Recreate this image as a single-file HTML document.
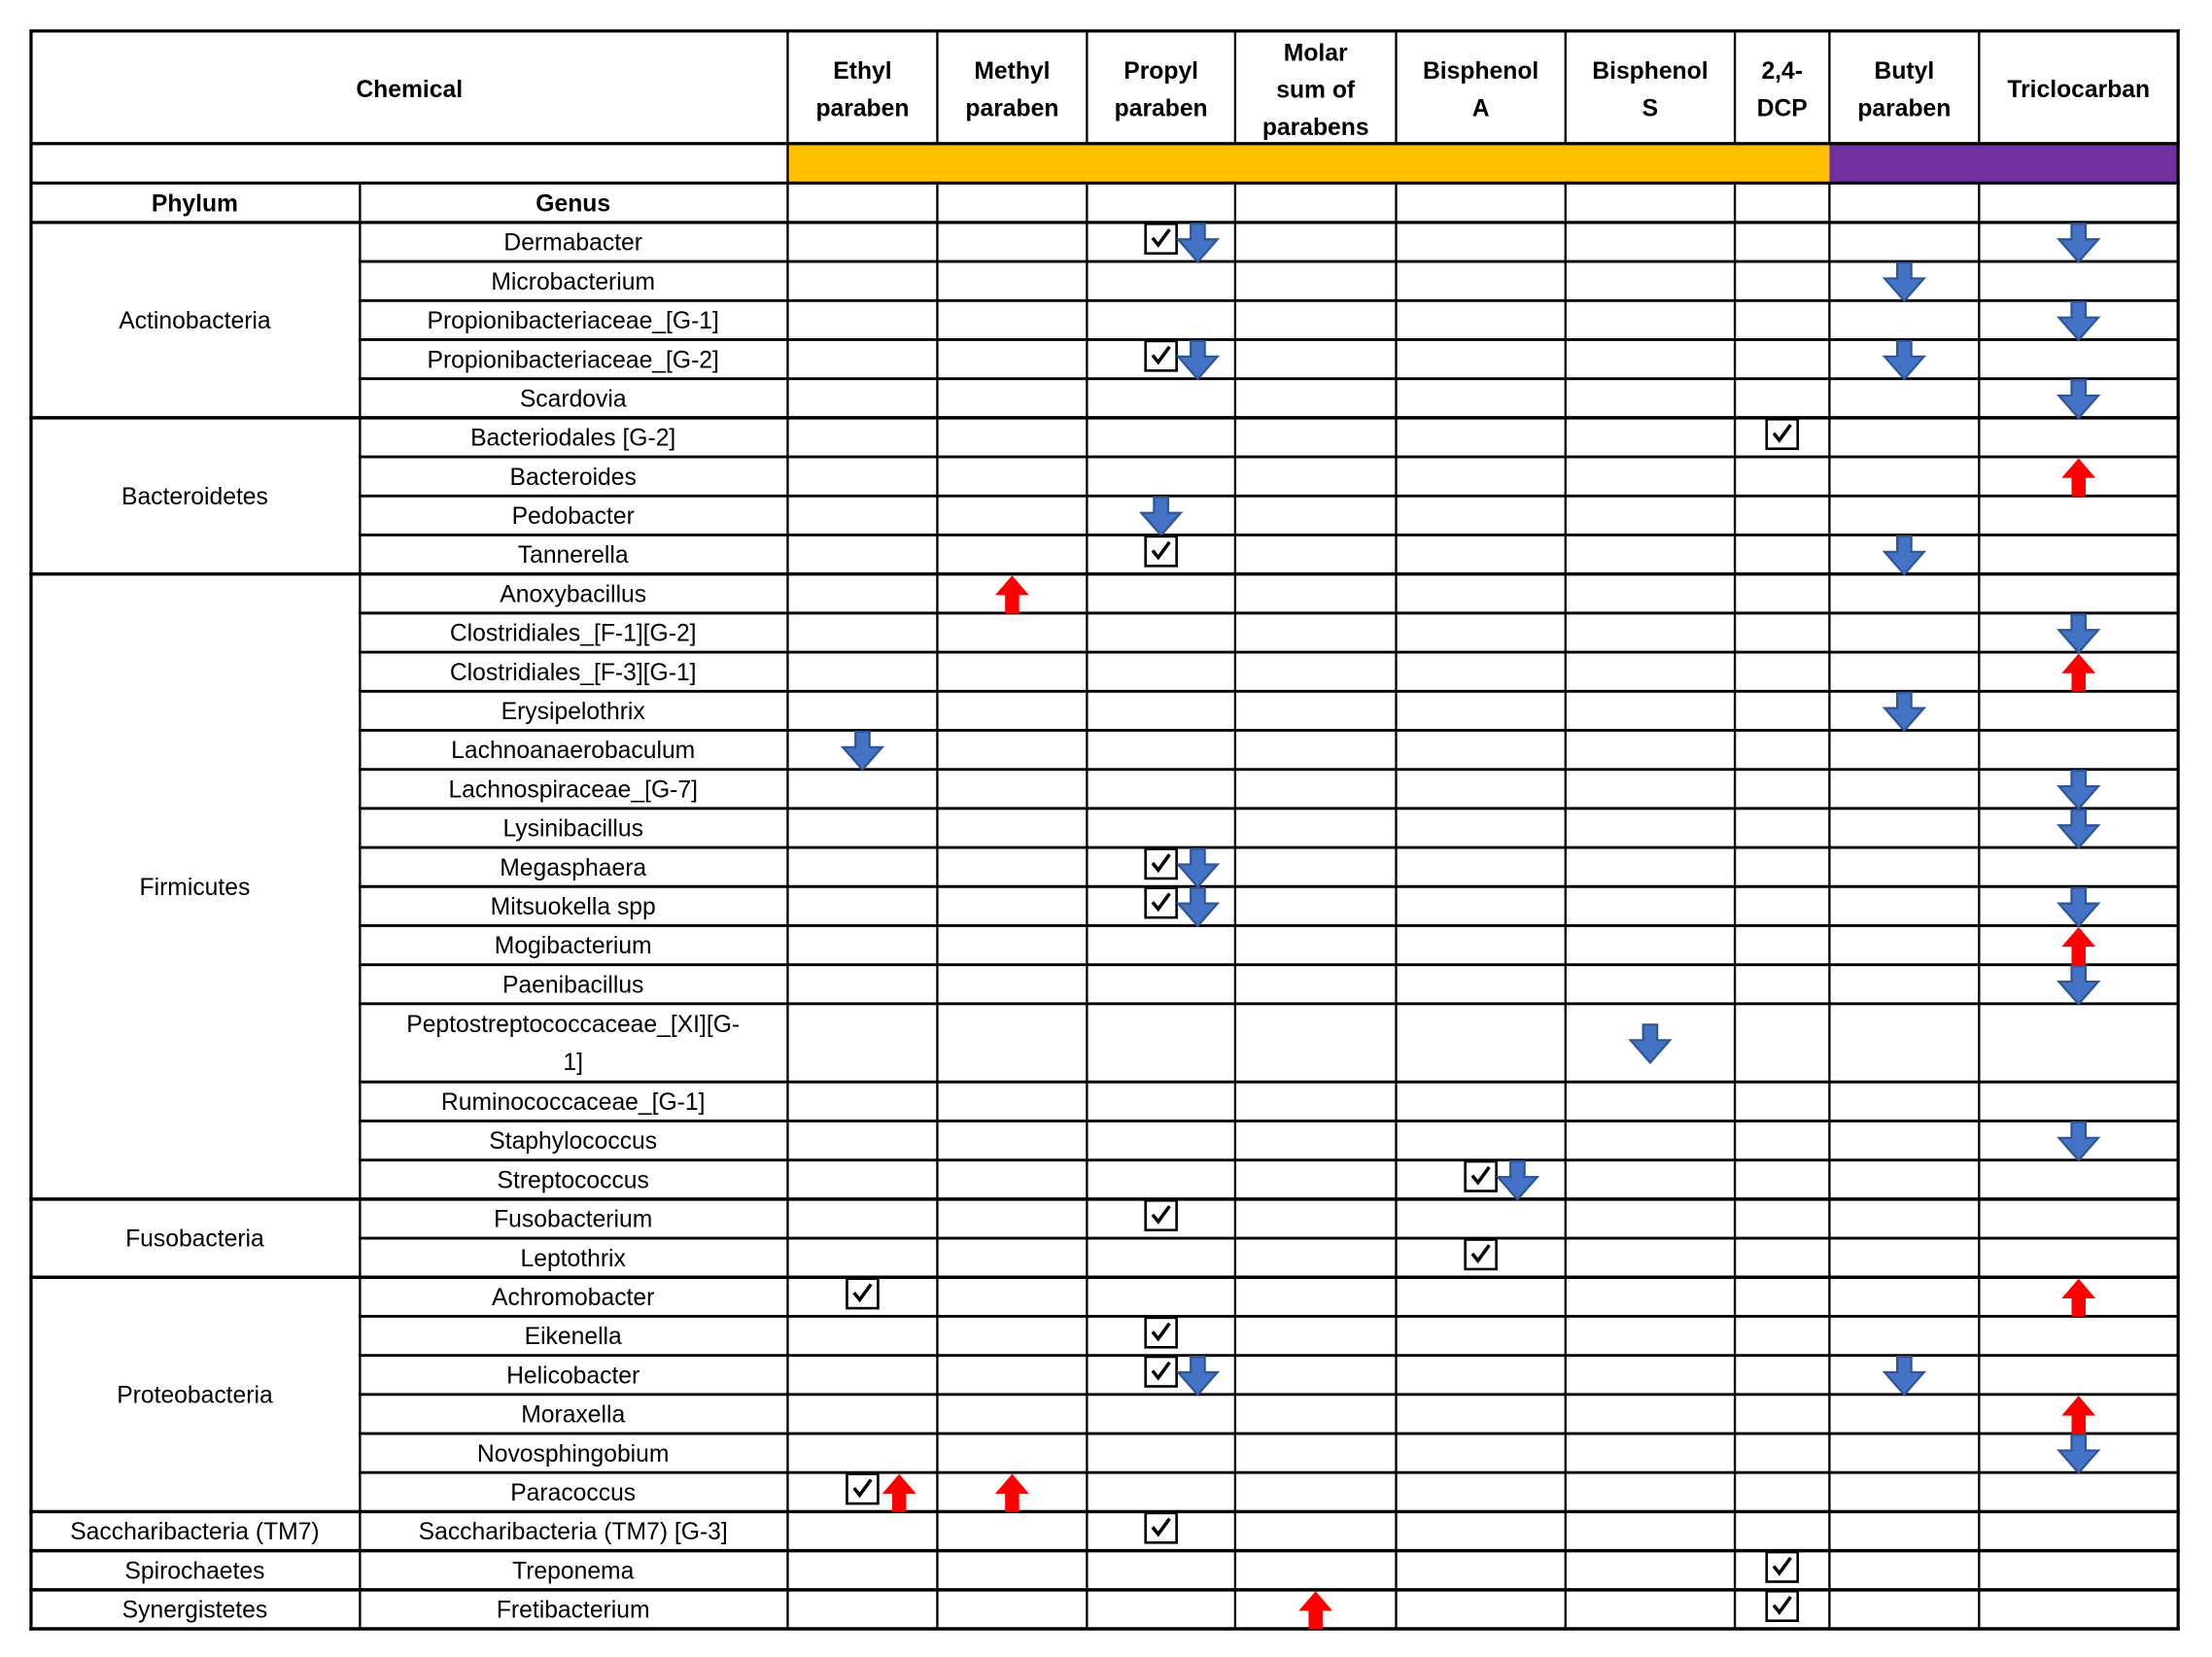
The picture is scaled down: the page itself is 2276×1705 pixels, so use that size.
<!DOCTYPE html>
<html><head><meta charset="utf-8"><style>
html,body{margin:0;padding:0;background:#fff;}
svg{display:block;}
text{font-family:"Liberation Sans",sans-serif;fill:#000;}
</style></head><body>
<svg id="tbl" width="2276" height="1705" viewBox="0 0 1567 1177" preserveAspectRatio="none" xmlns="http://www.w3.org/2000/svg"></svg>
<script>
const colEdges=[22,255,558,664,770,875,989,1109,1229,1296,1402,1543];
const chemicals=[["Ethyl","paraben"],["Methyl","paraben"],["Propyl","paraben"],["Molar","sum of","parabens"],["Bisphenol","A"],["Bisphenol","S"],["2,4-","DCP"],["Butyl","paraben"],["Triclocarban"]];
const genera=["Dermabacter","Microbacterium","Propionibacteriaceae_[G-1]","Propionibacteriaceae_[G-2]","Scardovia","Bacteriodales [G-2]","Bacteroides","Pedobacter","Tannerella","Anoxybacillus","Clostridiales_[F-1][G-2]","Clostridiales_[F-3][G-1]","Erysipelothrix","Lachnoanaerobaculum","Lachnospiraceae_[G-7]","Lysinibacillus","Megasphaera","Mitsuokella spp","Mogibacterium","Paenibacillus","Peptostreptococcaceae_[XI][G-|1]","Ruminococcaceae_[G-1]","Staphylococcus","Streptococcus","Fusobacterium","Leptothrix","Achromobacter","Eikenella","Helicobacter","Moraxella","Novosphingobium","Paracoccus","Saccharibacteria (TM7) [G-3]","Treponema","Fretibacterium"];
const rowUnits=genera.map(g=>g.includes("|")?2:1);
const phyla=[["Actinobacteria",0,5],["Bacteroidetes",5,4],["Firmicutes",9,15],["Fusobacteria",24,2],["Proteobacteria",26,6],["Saccharibacteria (TM7)",32,1],["Spirochaetes",33,1],["Synergistetes",34,1]];
// marks: [genusIndex, chemicalIndex, type]  c=check, d=down arrow, u=up arrow, cd=check+down, cu=check+up
const marks=[[0,2,"cd"],[0,8,"d"],[1,7,"d"],[2,8,"d"],[3,2,"cd"],[3,7,"d"],[4,8,"d"],[5,6,"c"],[6,8,"u"],[7,2,"d"],[8,2,"c"],[8,7,"d"],[9,1,"u"],[10,8,"d"],[11,8,"u"],[12,7,"d"],[13,0,"d"],[14,8,"d"],[15,8,"d"],[16,2,"cd"],[17,2,"cd"],[17,8,"d"],[18,8,"u"],[19,8,"d"],[20,5,"d"],[22,8,"d"],[23,4,"cd"],[24,2,"c"],[25,4,"c"],[26,0,"c"],[26,8,"u"],[27,2,"c"],[28,2,"cd"],[28,7,"d"],[29,8,"u"],[30,8,"d"],[31,0,"cu"],[31,1,"u"],[32,2,"c"],[33,6,"c"],[34,3,"u"],[34,6,"c"]];

const svg=document.getElementById('tbl');
const NS="http://www.w3.org/2000/svg";
function mk(tag,attrs,parent){const e=document.createElementNS(NS,tag);for(const k in attrs)e.setAttribute(k,attrs[k]);(parent||svg).appendChild(e);return e;}
const TOP=22,HB=102,CB=130,GH=158,RH=27.75;
const rowTops=[];let y=GH;rowUnits.forEach(u=>{rowTops.push(y);y+=u*RH;});const BOT=y;
const L=colEdges[0],R=colEdges[colEdges.length-1];

let r=mk('rect',{x:558,y:HB,width:1296-558,height:CB-HB,fill:'#FFC000'});


r=mk('rect',{x:1296,y:HB,width:R-1296,height:CB-HB,fill:'#7030A0'});



function txt(s,x,y,bold,name){const t=mk('text',{x:x,y:y,'text-anchor':'middle','font-size':17,'font-weight':bold?'bold':'normal'});t.textContent=s;return t;}
txt("Chemical",(L+558)/2,69,true,'chemical-header');
chemicals.forEach((lines,i)=>{const cx=(colEdges[i+2]+colEdges[i+3])/2;const n=lines.length;const y0=n===1?69:(n===2?56:43);lines.forEach((s,j)=>txt(s,cx,y0+j*26.5,true,'chemical-column-header'));});
txt("Phylum",138,150,true,'phylum-header');
txt("Genus",406,150,true,'genus-header');
genera.forEach((g,i)=>{const parts=g.split("|");const h=rowUnits[i]*RH;if(parts.length===1)txt(g,406,rowTops[i]+h/2+6,false,'genus-label');else{txt(parts[0],406,rowTops[i]+20,false,'genus-label');txt(parts[1],406,rowTops[i]+47,false,'genus-label');}});
phyla.forEach(p=>{const top=rowTops[p[1]];const end=p[1]+p[2]<genera.length?rowTops[p[1]+p[2]]:BOT;txt(p[0],138,(top+end)/2+6,false,'phylum-label');});

const gl=mk('g',{stroke:'#000','stroke-linecap':'square'});


[TOP,HB,CB,GH].forEach(yy=>mk('line',{x1:L,x2:R,y1:yy,y2:yy,'stroke-width':2.2},gl));
const groupStarts=phyla.map(p=>p[1]);
rowTops.forEach((t,i)=>{if(i===0)return;const isG=groupStarts.includes(i);mk('line',{x1:isG?L:255,x2:R,y1:t,y2:t,'stroke-width':isG?2.4:2},gl);});
mk('line',{x1:L,x2:R,y1:BOT,y2:BOT,'stroke-width':2.4},gl);
mk('line',{x1:L,x2:L,y1:TOP,y2:BOT,'stroke-width':2.2},gl);
mk('line',{x1:R,x2:R,y1:TOP,y2:BOT,'stroke-width':2.2},gl);
mk('line',{x1:255,x2:255,y1:CB,y2:BOT,'stroke-width':1.6},gl);
colEdges.slice(2,-1).forEach((x,i)=>{mk('line',{x1:x,x2:x,y1:TOP,y2:HB,'stroke-width':1.6},gl);mk('line',{x1:x,x2:x,y1:CB,y2:BOT,'stroke-width':1.6},gl);});
mk('line',{x1:558,x2:558,y1:HB,y2:CB,'stroke-width':1.6},gl);

function check(cx,top){const g=mk('g',{});


mk('rect',{x:cx-11,y:top+1,width:22,height:21,fill:'#fff',stroke:'#000','stroke-width':1.8},g);
mk('path',{d:`M${cx-6} ${top+11} L${cx-2} ${top+16} L${cx+6} ${top+5}`,fill:'none',stroke:'#000','stroke-width':2.4},g);}
function arrow(cx,top,up){const g=mk('g',{});


const t=top+1,b=top+28;let d;
if(!up)d=`M${cx-5} ${t} H${cx+5} V${t+11} H${cx+14} L${cx} ${b} L${cx-14} ${t+11} H${cx-5} Z`;
else d=`M${cx-5} ${b} H${cx+5} V${b-13} H${cx+12} L${cx} ${t} L${cx-12} ${b-13} H${cx-5} Z`;
mk('path',{d:d,fill:up?'#FF0000':'#4472C4',stroke:up?'none':'#2F5597','stroke-width':1.5},g);}
marks.forEach(m=>{const gi=m[0],ci=m[1],ty=m[2];const cx=(colEdges[ci+2]+colEdges[ci+3])/2;const h=rowUnits[gi]*RH;const top=rowTops[gi]+(h-RH)/2;
if(ty.startsWith('c')){check(cx,top);if(ty.length>1)arrow(cx+26,top,ty[1]==='u');}else arrow(cx,top,ty==='u');});
</script>
</body></html>
